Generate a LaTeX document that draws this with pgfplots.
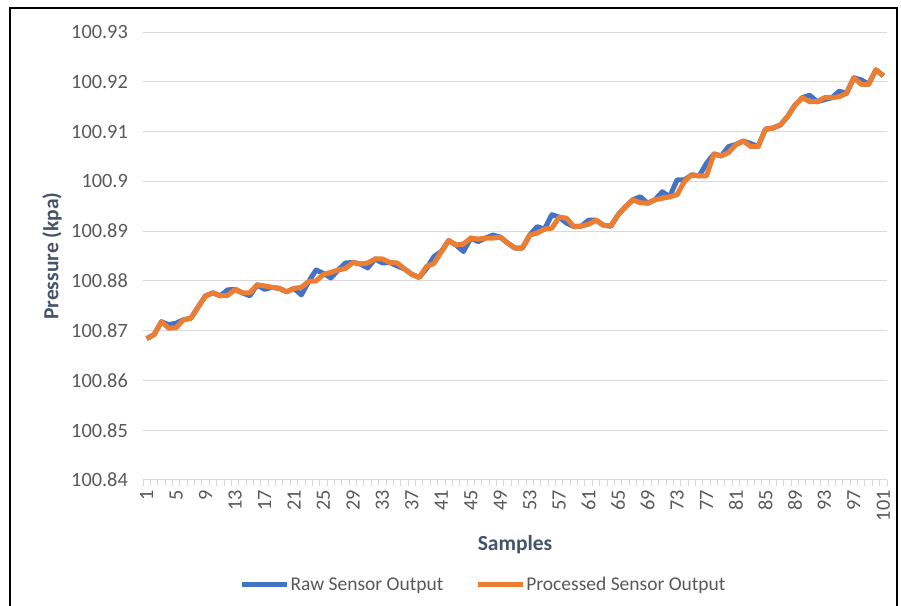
\documentclass[border=0pt]{standalone}
\usepackage{pgfplots}
\pgfplotsset{compat=1.18}
\usepackage{pgfplotstable}
\usepackage{fontspec}
\setmainfont{Carlito}
\definecolor{rawblue}{HTML}{4472C4}
\definecolor{procorange}{HTML}{ED7D31}
\definecolor{gridgray}{HTML}{D9D9D9}
\definecolor{tickgray}{HTML}{595959}
\definecolor{labgray}{HTML}{44546A}

\pgfplotstableread{
s v
1 100.8684
2 100.8692
3 100.8718
4 100.8712
5 100.8715
6 100.8722
7 100.8725
8 100.8748
9 100.8770
10 100.8776
11 100.8770
12 100.8782
13 100.8783
14 100.8776
15 100.8770
16 100.8792
17 100.8783
18 100.8787
19 100.8785
20 100.8778
21 100.8785
22 100.8772
23 100.8799
24 100.8822
25 100.8815
26 100.8806
27 100.8822
28 100.8836
29 100.8837
30 100.8834
31 100.8826
32 100.8844
33 100.8836
34 100.8837
35 100.8830
36 100.8824
37 100.8813
38 100.8807
39 100.8825
40 100.8849
41 100.8859
42 100.8881
43 100.8872
44 100.8859
45 100.8886
46 100.8879
47 100.8886
48 100.8892
49 100.8888
50 100.8876
51 100.8866
52 100.8866
53 100.8892
54 100.8909
55 100.8904
56 100.8933
57 100.8928
58 100.8916
59 100.8909
60 100.8910
61 100.8922
62 100.8922
63 100.8912
64 100.8910
65 100.8933
66 100.8949
67 100.8963
68 100.8969
69 100.8956
70 100.8963
71 100.8979
72 100.8969
73 100.9003
74 100.9003
75 100.9013
76 100.9011
77 100.9036
78 100.9055
79 100.9051
80 100.9070
81 100.9074
82 100.9081
83 100.9076
84 100.9070
85 100.9105
86 100.9107
87 100.9113
88 100.9130
89 100.9153
90 100.9168
91 100.9173
92 100.9160
93 100.9164
94 100.9168
95 100.9181
96 100.9177
97 100.9208
98 100.9204
99 100.9195
100 100.9224
101 100.9212
}\rawdata

\pgfplotstableread{
s v
1 100.8684
2 100.8692
3 100.8718
4 100.8705
5 100.8706
6 100.8722
7 100.8725
8 100.8748
9 100.8770
10 100.8776
11 100.8770
12 100.8771
13 100.8783
14 100.8776
15 100.8776
16 100.8792
17 100.8790
18 100.8787
19 100.8785
20 100.8778
21 100.8785
22 100.8787
23 100.8799
24 100.8800
25 100.8813
26 100.8817
27 100.8822
28 100.8825
29 100.8837
30 100.8834
31 100.8836
32 100.8844
33 100.8844
34 100.8837
35 100.8836
36 100.8824
37 100.8813
38 100.8807
39 100.8829
40 100.8835
41 100.8859
42 100.8881
43 100.8872
44 100.8874
45 100.8886
46 100.8884
47 100.8886
48 100.8886
49 100.8888
50 100.8876
51 100.8866
52 100.8866
53 100.8892
54 100.8896
55 100.8904
56 100.8906
57 100.8928
58 100.8926
59 100.8909
60 100.8910
61 100.8914
62 100.8922
63 100.8912
64 100.8910
65 100.8933
66 100.8949
67 100.8963
68 100.8957
69 100.8956
70 100.8963
71 100.8966
72 100.8969
73 100.8973
74 100.9000
75 100.9013
76 100.9011
77 100.9011
78 100.9055
79 100.9051
80 100.9058
81 100.9074
82 100.9081
83 100.9070
84 100.9070
85 100.9105
86 100.9107
87 100.9113
88 100.9130
89 100.9153
90 100.9168
91 100.9160
92 100.9160
93 100.9168
94 100.9168
95 100.9170
96 100.9177
97 100.9208
98 100.9195
99 100.9195
100 100.9224
101 100.9212
}\procdata

\begin{document}
\begin{tikzpicture}
\useasboundingbox (0,0) rectangle (901bp,606bp);
\fill[white] (0,0) rectangle (901bp,606bp);
\draw[line width=1.5bp,black] (10bp,-2bp) -- (10bp,598bp) -- (897bp,598bp) -- (897bp,-2bp);
\begin{axis}[
  at={(143bp,126bp)}, anchor=south west,
  scale only axis, width=744bp, height=448bp,
  xmin=0.5, xmax=101.5,
  ymin=100.84, ymax=100.93,
  axis line style={draw=none},
  ymajorgrids, grid style={gridgray, line width=1bp},
  ytick={100.84,100.85,100.86,100.87,100.88,100.89,100.90,100.91,100.92,100.93},
  yticklabels={100.84,100.85,100.86,100.87,100.88,100.89,100.9,100.91,100.92,100.93},
  xtick={1,5,9,13,17,21,25,29,33,37,41,45,49,53,57,61,65,69,73,77,81,85,89,93,97,101},
  xticklabels={1,5,9,13,17,21,25,29,33,37,41,45,49,53,57,61,65,69,73,77,81,85,89,93,97,101},
  minor xtick={0.5,1.5,...,101.5},
  major tick length=0pt,
  minor tick length=6bp,
  tick align=outside,
  xtick pos=bottom, ytick pos=left,
  x tick style={gridgray, line width=1bp},
  y tick style={draw=none},
  ticklabel style={font=\fontsize{20.3bp}{24bp}\selectfont, text=tickgray},
  yticklabel style={anchor=east, inner sep=0pt},
  yticklabel shift=15bp,
  xticklabel style={rotate=90, anchor=east, inner sep=0pt},
  xticklabel shift=10bp,
  xlabel={Samples},
  ylabel={Pressure (kpa)},
  every axis x label/.style={at={(axis description cs:0.5,-0.145)}, anchor=center, font=\bfseries\fontsize{21.5bp}{25bp}\selectfont, text=labgray},
  every axis y label/.style={at={(axis description cs:-0.1223,0.5)}, rotate=90, anchor=center, font=\bfseries\fontsize{21.5bp}{25bp}\selectfont, text=labgray},
  legend columns=2,
  legend style={at={(0.457,-0.234)}, anchor=center, draw=none, fill=none,
    font=\fontsize{19.5bp}{23bp}\selectfont, text=tickgray,
    /tikz/every even column/.append style={column sep=31bp},
    nodes={inner sep=1bp}},
  legend image code/.code={\draw[#1, line width=5bp] (0bp,0bp) -- (45bp,0bp);},
  legend cell align=left,
]
\addplot[rawblue, line width=5bp, line join=round, no markers] table[x=s,y=v] {\rawdata};
\addlegendentry{Raw Sensor Output}
\addplot[procorange, line width=5bp, line join=round, no markers] table[x=s,y=v] {\procdata};
\addlegendentry{Processed Sensor Output}
\end{axis}
\end{tikzpicture}
\end{document}
